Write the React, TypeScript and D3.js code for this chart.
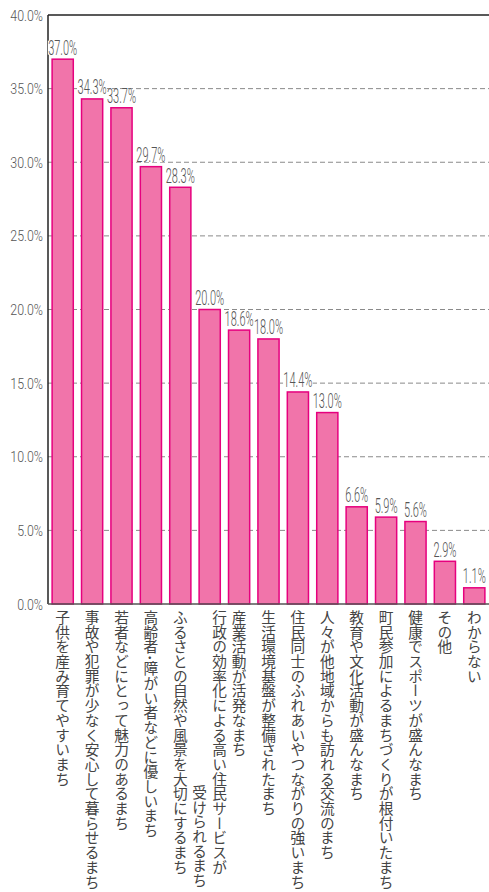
import React, { useEffect, useRef } from 'react';
import * as d3 from 'd3';

const categories: string[] = [
  '子供を産み育てやすいまち',
  '事故や犯罪が少なく安心して暮らせるまち',
  '若者などにとって魅力のあるまち',
  '高齢者･障がい者などに優しいまち',
  'ふるさとの自然や風景を大切にするまち',
  '行政の効率化による高い住民サービスが\n受けられるまち',
  '産業活動が活発なまち',
  '生活環境基盤が整備されたまち',
  '住民同士のふれあいやつながりの強いまち',
  '人々が他地域からも訪れる交流のまち',
  '教育や文化活動が盛んなまち',
  '町民参加によるまちづくりが根付いたまち',
  '健康でスポーツが盛んなまち',
  'その他',
  'わからない',
];
const values: number[] = [37.0, 34.3, 33.7, 29.7, 28.3, 20.0, 18.6, 18.0, 14.4, 13.0, 6.6, 5.9, 5.6, 2.9, 1.1];
const yTicks: number[] = [0, 5, 10, 15, 20, 25, 30, 35, 40];

const W = 489, H = 892;

const App: React.FC = () => {
  const ref = useRef<SVGSVGElement>(null);

  useEffect(() => {
    if (!ref.current) return;
    const svg = d3.select(ref.current);
    svg.selectAll('*').remove();

    const margin = { top: 15, right: 0, bottom: 288, left: 48 };
    const x0 = margin.left, x1 = W - margin.right;
    const y0 = H - margin.bottom, y1 = margin.top;

    const x = d3.scaleBand<number>()
      .domain(d3.range(values.length))
      .range([x0, x1])
      .paddingInner(0.28)
      .paddingOuter(0.14);
    const y = d3.scaleLinear().domain([0, 40]).range([y0, y1]);

    // grid
    svg.append('g')
      .selectAll('line')
      .data(yTicks.filter(t => t > 0 && t < 40))
      .join('line')
      .attr('x1', x0).attr('x2', x1)
      .attr('y1', d => y(d)).attr('y2', d => y(d))
      .attr('stroke', '#8a8a8a')
      .attr('stroke-width', 1)
      .attr('stroke-dasharray', '5,3');

    // bars
    svg.append('g')
      .selectAll('rect')
      .data(values)
      .join('rect')
      .attr('x', (_, i) => x(i)!)
      .attr('width', x.bandwidth())
      .attr('y', d => y(d))
      .attr('height', d => y0 - y(d))
      .attr('fill', '#f174aa')
      .attr('stroke', '#e6007e')
      .attr('stroke-width', 1.5);

    // axes frame
    svg.append('line')
      .attr('x1', x0).attr('x2', x0).attr('y1', y1).attr('y2', y0)
      .attr('stroke', '#222').attr('stroke-width', 1.5);
    svg.append('line')
      .attr('x1', x0).attr('x2', x1).attr('y1', y1).attr('y2', y1)
      .attr('stroke', '#222').attr('stroke-width', 1.5);
    svg.append('line')
      .attr('x1', x0).attr('x2', x1).attr('y1', y0).attr('y2', y0)
      .attr('stroke', '#555').attr('stroke-width', 1.5);

    // y tick labels
    svg.append('g')
      .selectAll('g')
      .data(yTicks)
      .join('g')
      .attr('transform', d => `translate(43,${y(d)}) scale(0.8,1)`)
      .append('text')
      .attr('text-anchor', 'end')
      .attr('dy', '0.36em')
      .attr('font-family', 'Roboto, "Liberation Sans", sans-serif')
      .attr('font-weight', 300)
      .attr('font-size', 15.5)
      .attr('fill', '#555')
      .text(d => d.toFixed(1) + '%');

    // value labels
    const vl = svg.append('g')
      .selectAll('g')
      .data(values)
      .join('g')
      .attr('transform', (d, i) => `translate(${x(i)! + x.bandwidth() / 2},${y(d) - 4.5}) scale(0.55,1)`);
    vl.append('rect')
      .attr('x', -27).attr('y', -14)
      .attr('width', 54).attr('height', 14)
      .attr('fill', '#fff');
    vl.append('text')
      .attr('text-anchor', 'middle')
      .attr('font-family', 'Roboto, "Liberation Sans", sans-serif')
      .attr('font-weight', 300)
      .attr('font-size', 20)
      .attr('fill', '#555')
      .text(d => d.toFixed(1) + '%');

    // category labels (vertical)
    const fs = 14.7;
    const labelTop = y0 + 6;
    const cg = svg.append('g')
      .selectAll('g')
      .data(categories)
      .join('g')
      .attr('transform', (_, i) => `translate(${x(i)! + x.bandwidth() / 2},${labelTop})`);
    cg.each(function (d) {
      const lines = d.split('\n');
      const g = d3.select(this);
      const spacing = 20;
      lines.forEach((ln, k) => {
        const off = (lines.length - 1) * spacing / 2 - k * spacing;
        g.append('text')
          .attr('x', off)
          .attr('y', k === 0 ? 0 : fs * 18.9)
          .attr('text-anchor', k === 0 ? 'start' : 'end')
          .attr('font-family', '"Noto Sans CJK JP", sans-serif')
          .attr('font-size', fs)
          .attr('fill', '#444')
          .style('writing-mode', 'vertical-rl')
          .text(ln);
      });
    });
  }, []);

  return (
    <svg ref={ref} width={W} height={H}
      style={{ position: 'absolute', left: 0, top: 0, background: '#fff' }} />
  );
};

export default App;
